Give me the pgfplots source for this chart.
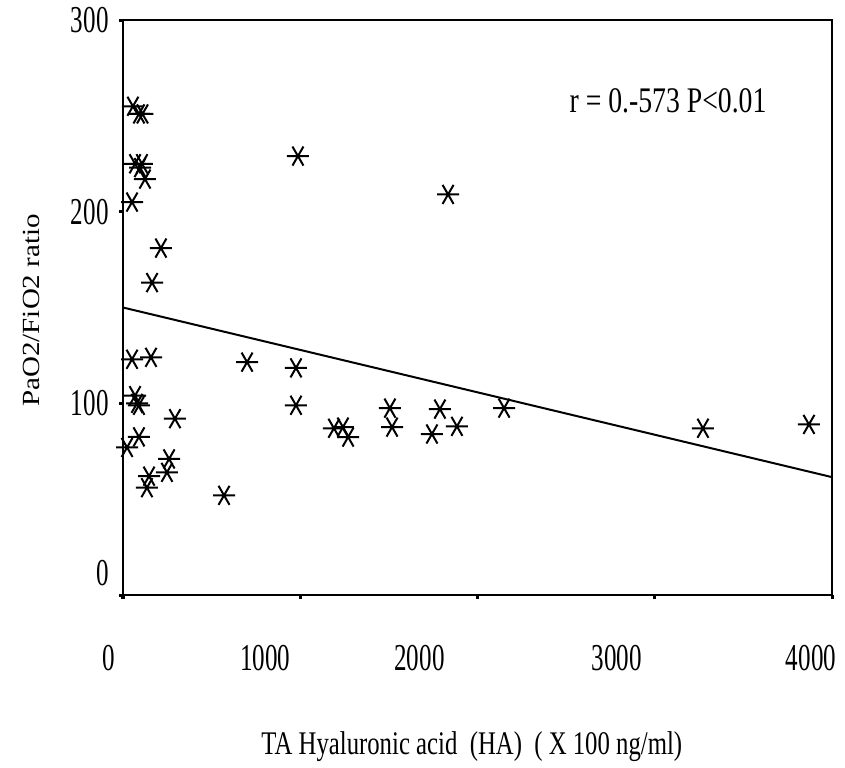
\documentclass[border=0pt]{standalone}
\usepackage{graphicx}
\usepackage{fontspec}
\setmainfont{Liberation Serif}
\usepackage{pgfplots}
\pgfplotsset{compat=1.18}
\newcommand\tickfont[1]{\scalebox{0.66}[1]{\fontsize{19pt}{19pt}\selectfont #1}}
\newcommand\xtl[2]{\makebox[0pt]{\hspace*{#1}\tickfont{#2}}}
\begin{document}
\begin{tikzpicture}
\begin{axis}[
  scale only axis,
  width=354.5pt, height=287.5pt,
  xmin=0, xmax=4000, ymin=0, ymax=300,
  axis line style={line width=1.2pt},
  xtick={0,1000,2000,3000,4000},
  ytick={0,100,200,300},
  xticklabels={\xtl{-14pt}{0},\xtl{-35pt}{1000},\xtl{-58pt}{2000},\xtl{-38pt}{3000},\xtl{-21pt}{4000}},
  yticklabels={\tickfont{\raisebox{22pt}{0}},\tickfont{100},\tickfont{200},\tickfont{300}},
  tick align=outside,
  major tick length=2pt,
  tick style={line width=1.5pt, black},
  xtick pos=bottom, ytick pos=left,
  xticklabel style={anchor=north, inner sep=0pt, yshift=-23pt},
  yticklabel style={anchor=east, inner sep=0pt, xshift=-5pt},
  xlabel={\scalebox{0.75}[1]{\fontsize{16.5pt}{16.5pt}\selectfont TA Hyaluronic acid~ (HA)~ ( X 100 ng/ml)}},
  xlabel style={at={(axis description cs:0.492,0)}, anchor=center, yshift=-76pt},
  ylabel={\scalebox{1}[0.85]{\fontsize{14.5pt}{14.5pt}\selectfont PaO2/FiO2 ratio}},
  ylabel style={at={([xshift=-46pt]axis description cs:0,0.495)}, anchor=center},
  clip=false,
]
\addplot[only marks, mark=asterisk, mark size=5.5pt, mark options={rotate=90, line width=1pt, black}] coordinates {
(56,255) (90,251) (110,251)
(68,225) (96,223) (107,225) (124,217)
(51,205) (214,181) (164,163) (987,229) (1834,209)
(51,123) (158,124) (700,121.5) (976,118.5)
(68,104) (79,100) (90,99)
(293,92) (976,99) (90,82.5) (23,77) (260,71) (248,64) (147,62) (135,56) (570,52)
(1190,87) (1241,87.6) (1270,82.4) (1506,97.5) (1518,87.6)
(1788,97) (1743,84) (1884,88) (2150,97.5) (3272,87) (3870,89)
};
\addplot[black, line width=1pt] coordinates {(0,150) (4000,61.5)};
\node at (axis cs:3075,258) {\scalebox{0.77}[1]{\fontsize{18pt}{18pt}\selectfont r = 0.-573 P<0.01}};
\end{axis}
\pgfresetboundingbox
\path[use as bounding box] (-61.5pt,-86pt) rectangle (361pt,297.5pt);
\end{tikzpicture}
\end{document}
